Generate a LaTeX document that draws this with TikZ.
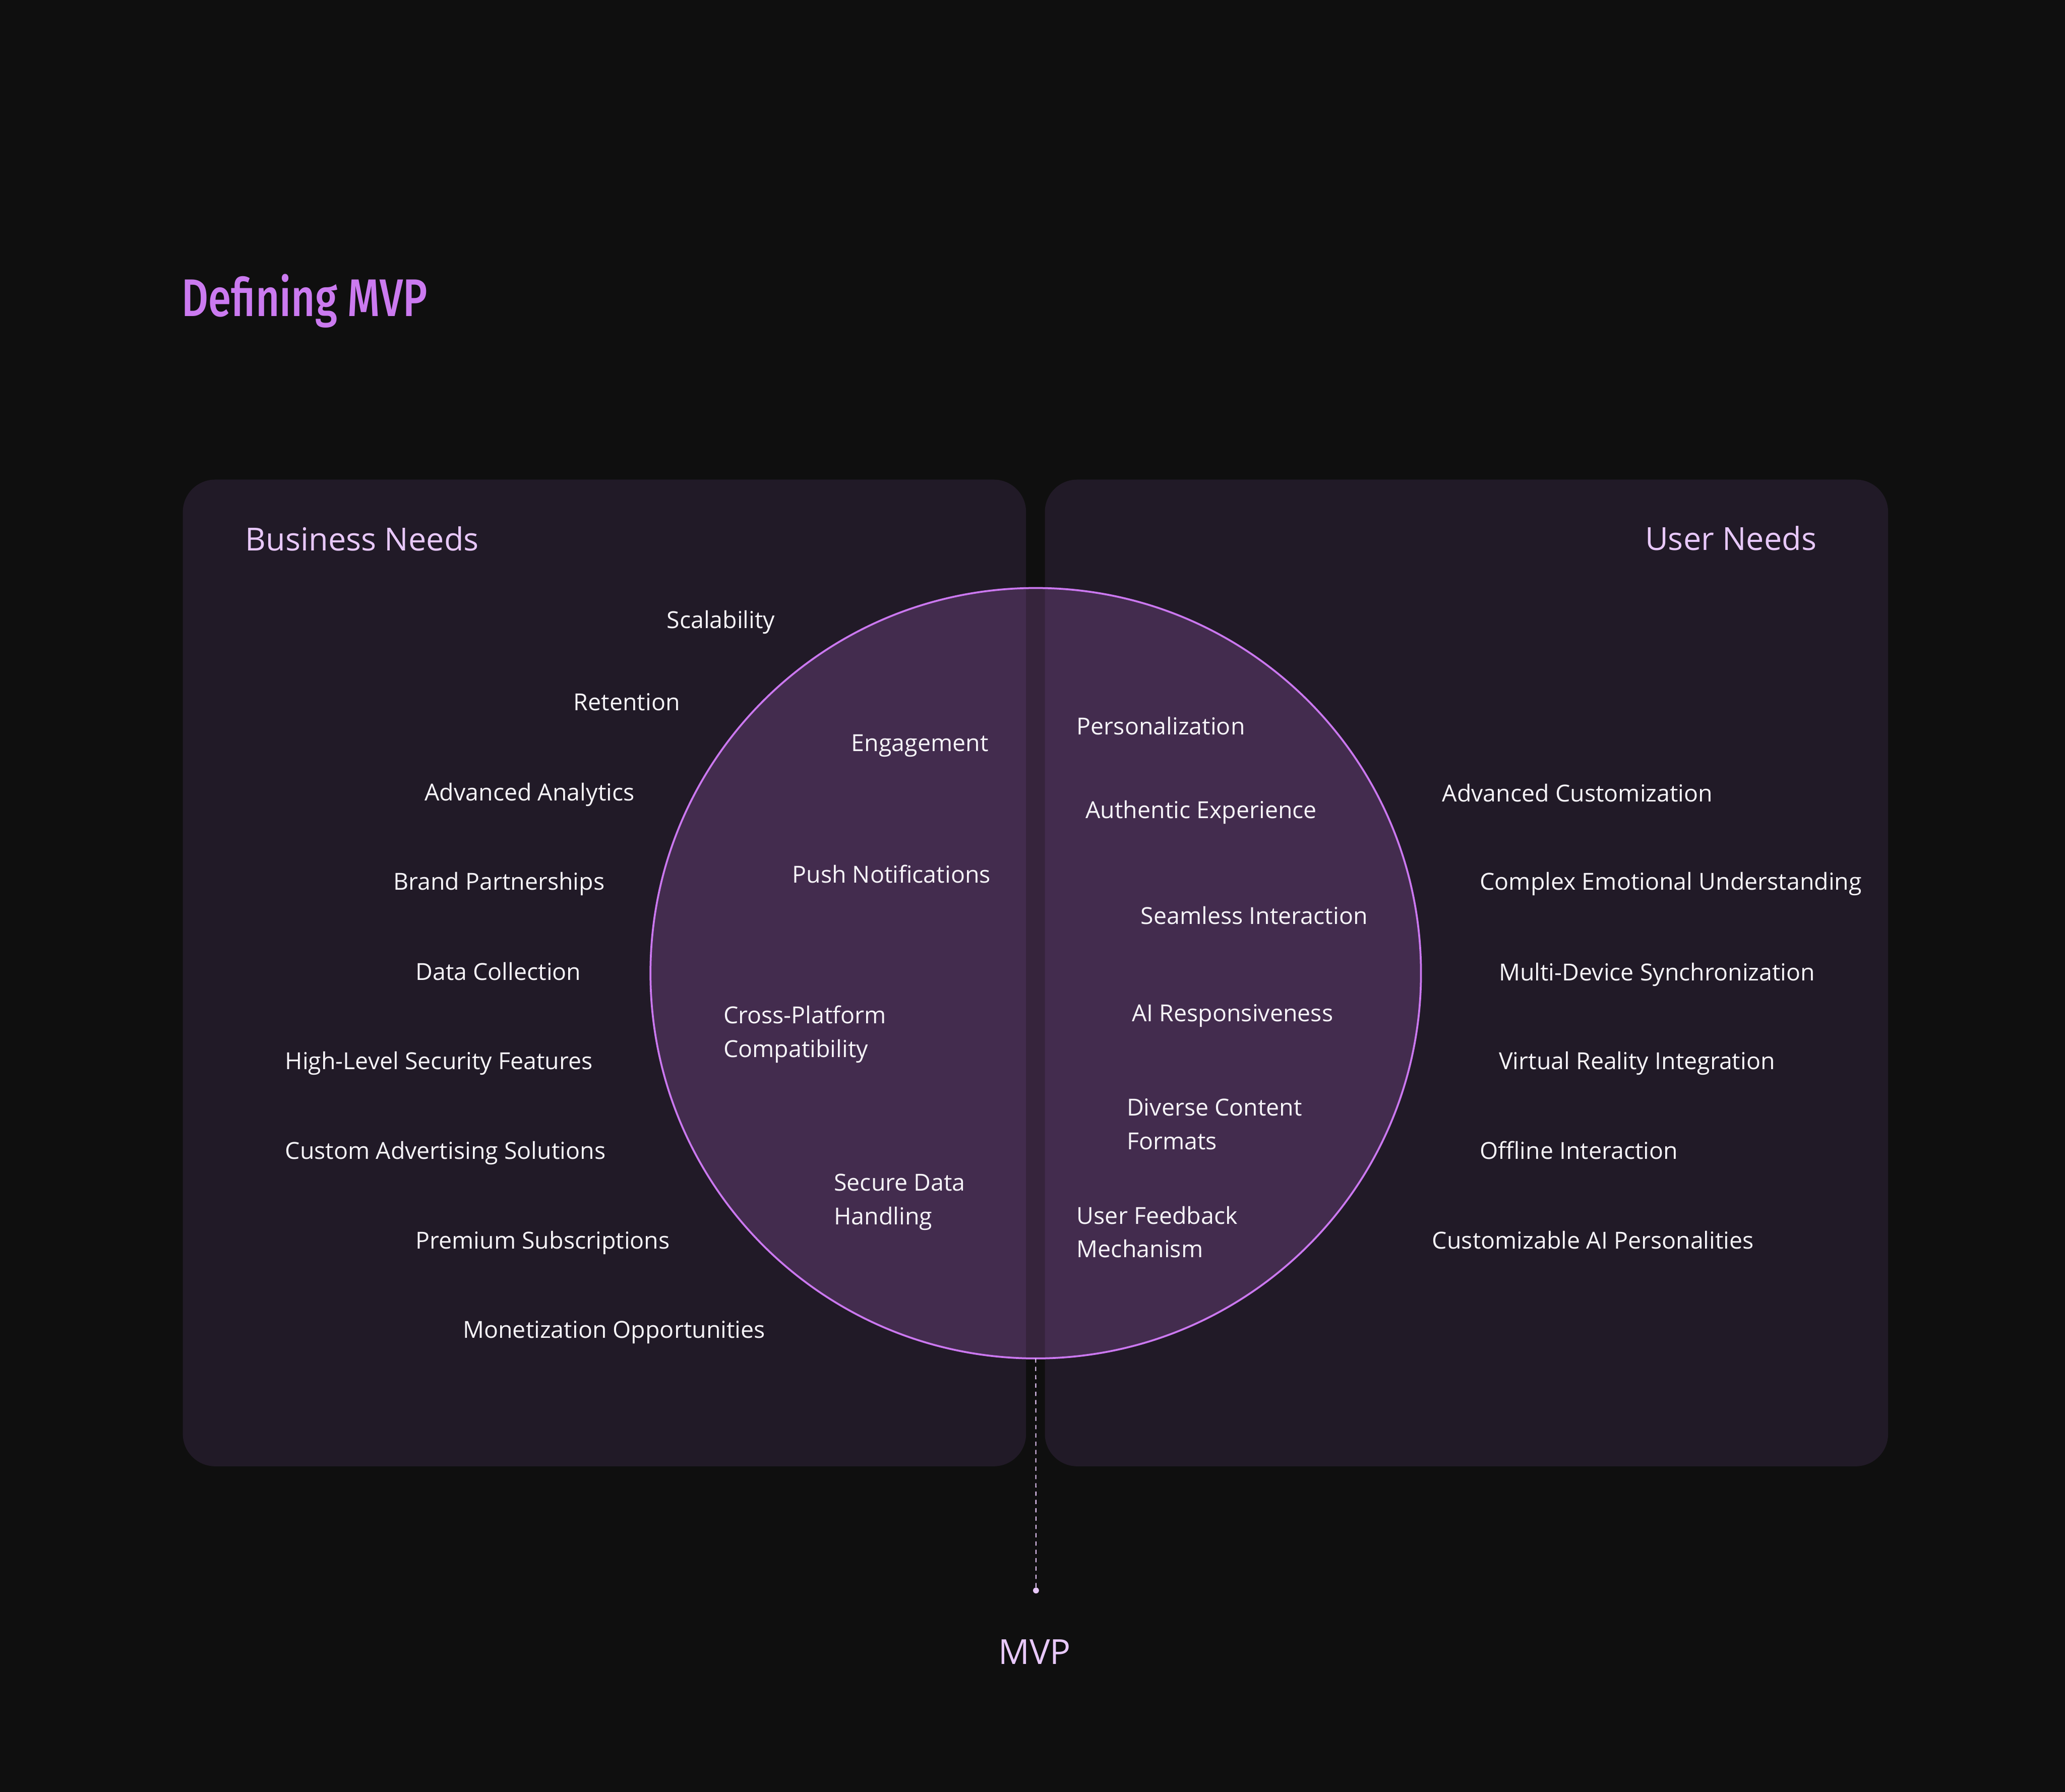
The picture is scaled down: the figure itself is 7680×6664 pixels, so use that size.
\documentclass[tikz,border=0pt]{standalone}
\usepackage{fontspec}
\setmainfont{Open Sans}
\newfontfamily\titlefont{Fira Sans Medium}[FakeStretch=0.78]
\definecolor{bgc}{RGB}{15,15,15}
\definecolor{panelc}{RGB}{33,26,39}
\definecolor{circfill}{RGB}{171,99,195}
\definecolor{circline}{RGB}{203,120,240}
\definecolor{titlec}{RGB}{203,122,240}
\definecolor{labelc}{RGB}{232,200,250}
\definecolor{itemc}{RGB}{246,244,248}
\begin{document}
\begin{tikzpicture}[x=0.01cm,y=-0.01cm,
  item/.style={anchor=base west, inner sep=0, text=itemc, font=\fontsize{24.8}{35.5}\selectfont},
  grouplabel/.style={inner sep=0, text=labelc, font=\fontsize{33.6}{40}\selectfont},
  panel/.style={fill=panelc, rounded corners=1.2cm}]
\useasboundingbox (0,0) rectangle (7680,6664);
\fill[bgc] (-20,-20) rectangle (7700,6684);
% panels
\fill[panel] (680,1784) rectangle (3816,5454);
\fill[panel] (3886,1784) rectangle (7022,5454);
% circle
\node[circle, minimum size=28.64cm, inner sep=0, outer sep=0, fill=circfill, fill opacity=0.25, draw=circline, draw opacity=1, line width=2pt] (venn) at (3852,3620) {};
% connector
\coordinate (dot) at (3853,5916);
\draw[labelc, line width=1.1pt, dash pattern=on 4.5pt off 4.3pt] (venn.south) -- (dot);
\fill[labelc] (dot) circle (0.11cm);
% title and labels
\node[anchor=base west, inner sep=0, text=titlec, font=\titlefont\fontsize{56}{60}\selectfont] (title) at (676,1176) {Defining MVP};
\node[grouplabel, anchor=base west] (business) at (912,2048) {Business Needs};
\node[grouplabel, anchor=base east] (user) at (6757,2047) {User Needs};
\node[grouplabel, anchor=base, font=\fontsize{36.5}{40}\selectfont] (mvp) at (3848,6190) {MVP};
% business needs
\node[item] (b1) at (2479,2338) {Scalability};
\node[item] (b2) at (2133,2642) {Retention};
\node[item] (b3) at (1579,2978) {Advanced Analytics};
\node[item] (b4) at (1462,3311) {Brand Partnerships};
\node[item] (b5) at (1545,3645) {Data Collection};
\node[item] (b6) at (1060,3978) {High-Level Security Features};
\node[item] (b7) at (1060,4311) {Custom Advertising Solutions};
\node[item] (b8) at (1545,4645) {Premium Subscriptions};
\node[item] (b9) at (1721,4978) {Monetization Opportunities};
% overlap left
\node[item] (m1) at (3166,2794) {Engagement};
\node[item] (m2) at (2946,3284) {Push Notifications};
\node[item] (m3) at (2690,3808) {\vtop{\baselineskip=35.5pt\hbox{Cross-Platform}\hbox{Compatibility}}};
\node[item] (m4) at (3101,4430) {\vtop{\baselineskip=35.5pt\hbox{Secure Data}\hbox{Handling}}};
% overlap right
\node[item] (m5) at (4004,2732) {Personalization};
\node[item] (m6) at (4037,3044) {Authentic Experience};
\node[item] (m7) at (4242,3438) {Seamless Interaction};
\node[item] (m8) at (4209,3799) {AI Responsiveness};
\node[item] (m9) at (4190,4151) {\vtop{\baselineskip=35.5pt\hbox{Diverse Content}\hbox{Formats}}};
\node[item] (m10) at (4004,4553) {\vtop{\baselineskip=35.5pt\hbox{User Feedback}\hbox{Mechanism}}};
% user needs
\node[item] (u1) at (5363,2982) {Advanced Customization};
\node[item] (u2) at (5503,3311) {Complex Emotional Understanding};
\node[item] (u3) at (5574,3647) {Multi-Device Synchronization};
\node[item] (u4) at (5574,3978) {Virtual Reality Integration};
\node[item] (u5) at (5503,4311) {Offline Interaction};
\node[item] (u6) at (5326,4645) {Customizable AI Personalities};
\end{tikzpicture}
\end{document}
